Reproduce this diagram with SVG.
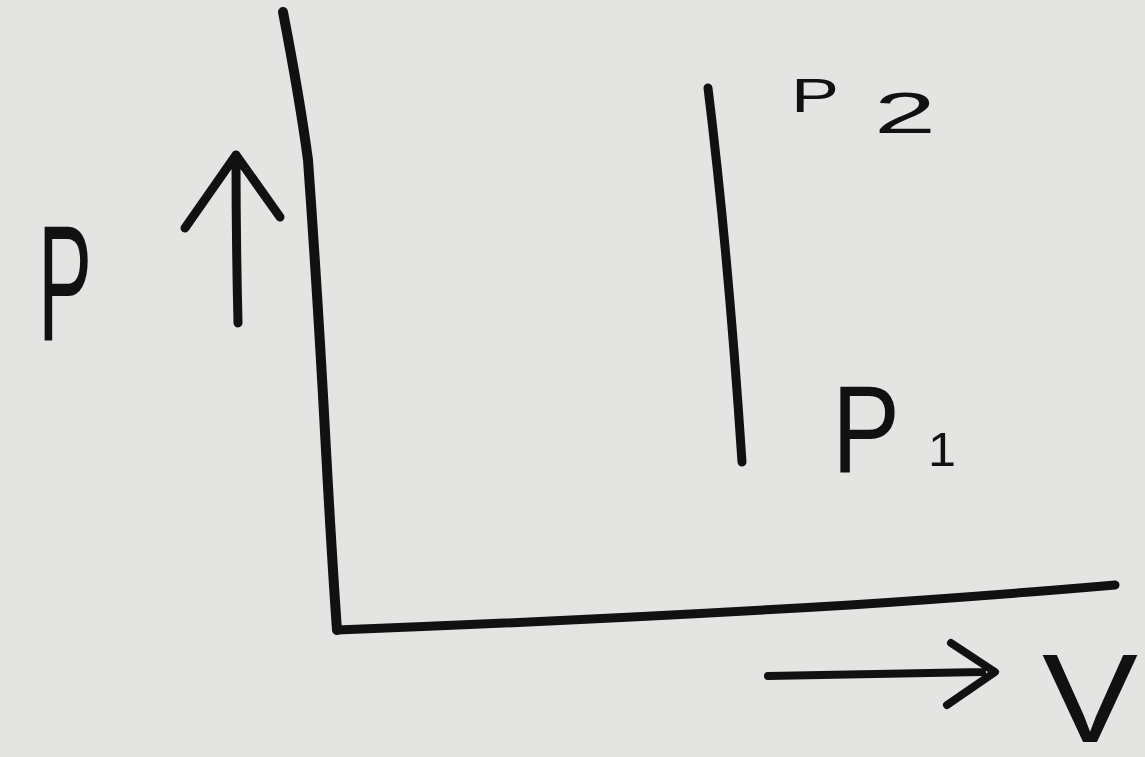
<svg xmlns="http://www.w3.org/2000/svg" width="1145" height="757" viewBox="0 0 1145 757">
  <style>
    .ln { fill: none; stroke: #111; stroke-linecap: round; stroke-linejoin: round; }
    .lbl { font-family: "Liberation Sans", Arial, sans-serif; fill: #111; }
  </style>
  <rect width="1145" height="757" fill="#e4e4e2"/>
  <g id="connectors">
    <path id="p-axis" class="ln" stroke-width="10" d="M283,12 Q300,100 308,160 Q318,300 326,450 Q332,560 337,630"/>
    <path id="v-axis" class="ln" stroke-width="9" d="M337,630 Q600,620 850,605 Q1000,595 1115,585"/>
    <path id="isochore" class="ln" stroke-width="9" d="M708,88 Q728,250 742,462"/>
    <path id="p-arrow" class="ln" stroke-width="9" d="M238,323 Q236,240 236,155 M185,228 L236,155 L280,217"/>
    <path id="v-arrow" class="ln" stroke-width="8" d="M768,676 L982,672 M951,643 L995,672 L947,705"/>
  </g>
  <g id="label-P">
    <text class="lbl" x="38" y="340" font-size="166" textLength="54" lengthAdjust="spacingAndGlyphs">P</text>
  </g>
  <g id="label-P2">
    <text class="lbl" x="791" y="112" font-size="48" textLength="48" lengthAdjust="spacingAndGlyphs">P</text>
    <text class="lbl" x="874" y="133" font-size="58" textLength="62" lengthAdjust="spacingAndGlyphs">2</text>
  </g>
  <g id="label-P1">
    <text class="lbl" x="832" y="472" font-size="125" textLength="68" lengthAdjust="spacingAndGlyphs">P</text>
    <text class="lbl" x="928" y="466" font-size="48" textLength="28" lengthAdjust="spacingAndGlyphs">1</text>
  </g>
  <g id="label-V">
    <text class="lbl" x="1042" y="742" font-size="126" textLength="96" lengthAdjust="spacingAndGlyphs">V</text>
  </g>
</svg>
